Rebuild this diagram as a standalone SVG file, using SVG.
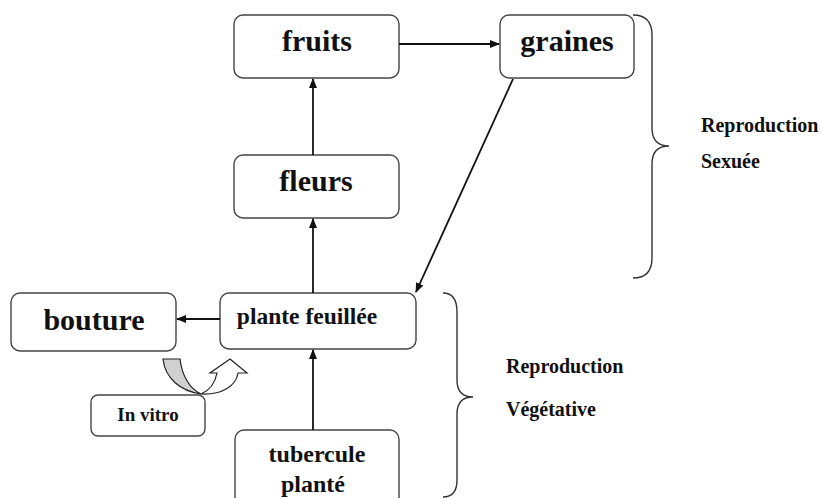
<svg xmlns="http://www.w3.org/2000/svg" width="821" height="498" viewBox="0 0 821 498">
<style>
.box{fill:#fff;stroke:#444;stroke-width:1.4}
.t{font-family:"Liberation Serif","Times New Roman",serif;font-weight:bold;fill:#111;text-anchor:middle}
.lbl{font-family:"Liberation Serif","Times New Roman",serif;font-weight:bold;fill:#111;font-size:20px}
.c{fill:none;stroke:#111;stroke-width:1.8}
.br{fill:none;stroke:#333;stroke-width:1.4}
</style>
<defs>
<marker id="ah" markerWidth="10" markerHeight="10" refX="9" refY="5" orient="auto" markerUnits="userSpaceOnUse">
<path d="M0,1 L10,5 L0,9 Z" fill="#111"/>
</marker>
</defs>
<rect width="821" height="498" fill="#fff"/>
<g id="fruits"><rect class="box" x="234" y="15" width="165" height="63" rx="9"/><text class="t" x="317" y="51" font-size="30">fruits</text></g>
<g id="graines"><rect class="box" x="500" y="15" width="134" height="63" rx="9"/><text class="t" x="567" y="51" font-size="30">graines</text></g>
<g id="fleurs"><rect class="box" x="234" y="155" width="165" height="63" rx="9"/><text class="t" x="316" y="191" font-size="30">fleurs</text></g>
<g id="plante"><rect class="box" x="220" y="293" width="196" height="56" rx="9"/><text class="t" x="307" y="324" font-size="23.5">plante feuillée</text></g>
<g id="bouture"><rect class="box" x="11" y="293" width="165" height="58" rx="9"/><text class="t" x="94" y="330" font-size="30">bouture</text></g>
<g id="invitro"><rect class="box" x="91" y="395" width="114" height="41" rx="7"/><text class="t" x="148" y="421" font-size="19">In vitro</text></g>
<g id="tubercule"><rect class="box" x="235" y="430" width="164" height="78" rx="9"/><text class="t" x="317" y="462" font-size="24">tubercule</text><text class="t" x="313" y="492" font-size="24">planté</text></g>
<g id="connectors">
<line class="c" x1="399" y1="44" x2="499" y2="44" marker-end="url(#ah)"/>
<line class="c" x1="313" y1="155" x2="313" y2="79" marker-end="url(#ah)"/>
<line class="c" x1="313" y1="293" x2="313" y2="219" marker-end="url(#ah)"/>
<line class="c" x1="513" y1="79" x2="416" y2="292" marker-end="url(#ah)"/>
<line class="c" x1="220" y1="319" x2="177" y2="319" marker-end="url(#ah)"/>
<line class="c" x1="313" y1="430" x2="313" y2="350" marker-end="url(#ah)"/>
<path d="M163,359 L180,359 C182,376 190,389 201,394 C180,391 165,378 163,359 Z" fill="#d0d0d0" stroke="#222" stroke-width="1.2"/>
<path d="M201,394 C222,395 236,386 238,373 L247,373 L230,359 L210,373 L217,373 C215,384 208,391 201,394 Z" fill="#fff" stroke="#222" stroke-width="1.2"/>
</g>
<g id="brace-sexuee">
<path class="br" d="M633,15 Q652,15 652,35 L652,128 Q652,146 669,146 Q652,146 652,164 L652,258 Q652,278 633,278"/>
<text class="lbl" x="701" y="132">Reproduction</text>
<text class="lbl" x="701" y="168">Sexuée</text>
</g>
<g id="brace-vegetative">
<path class="br" d="M443,293 Q457,293 457,312 L457,380 Q457,397 473,397 Q457,397 457,414 L457,480 Q457,497 443,497"/>
<text class="lbl" x="506" y="373">Reproduction</text>
<text class="lbl" x="506" y="416">Végétative</text>
</g>
</svg>
